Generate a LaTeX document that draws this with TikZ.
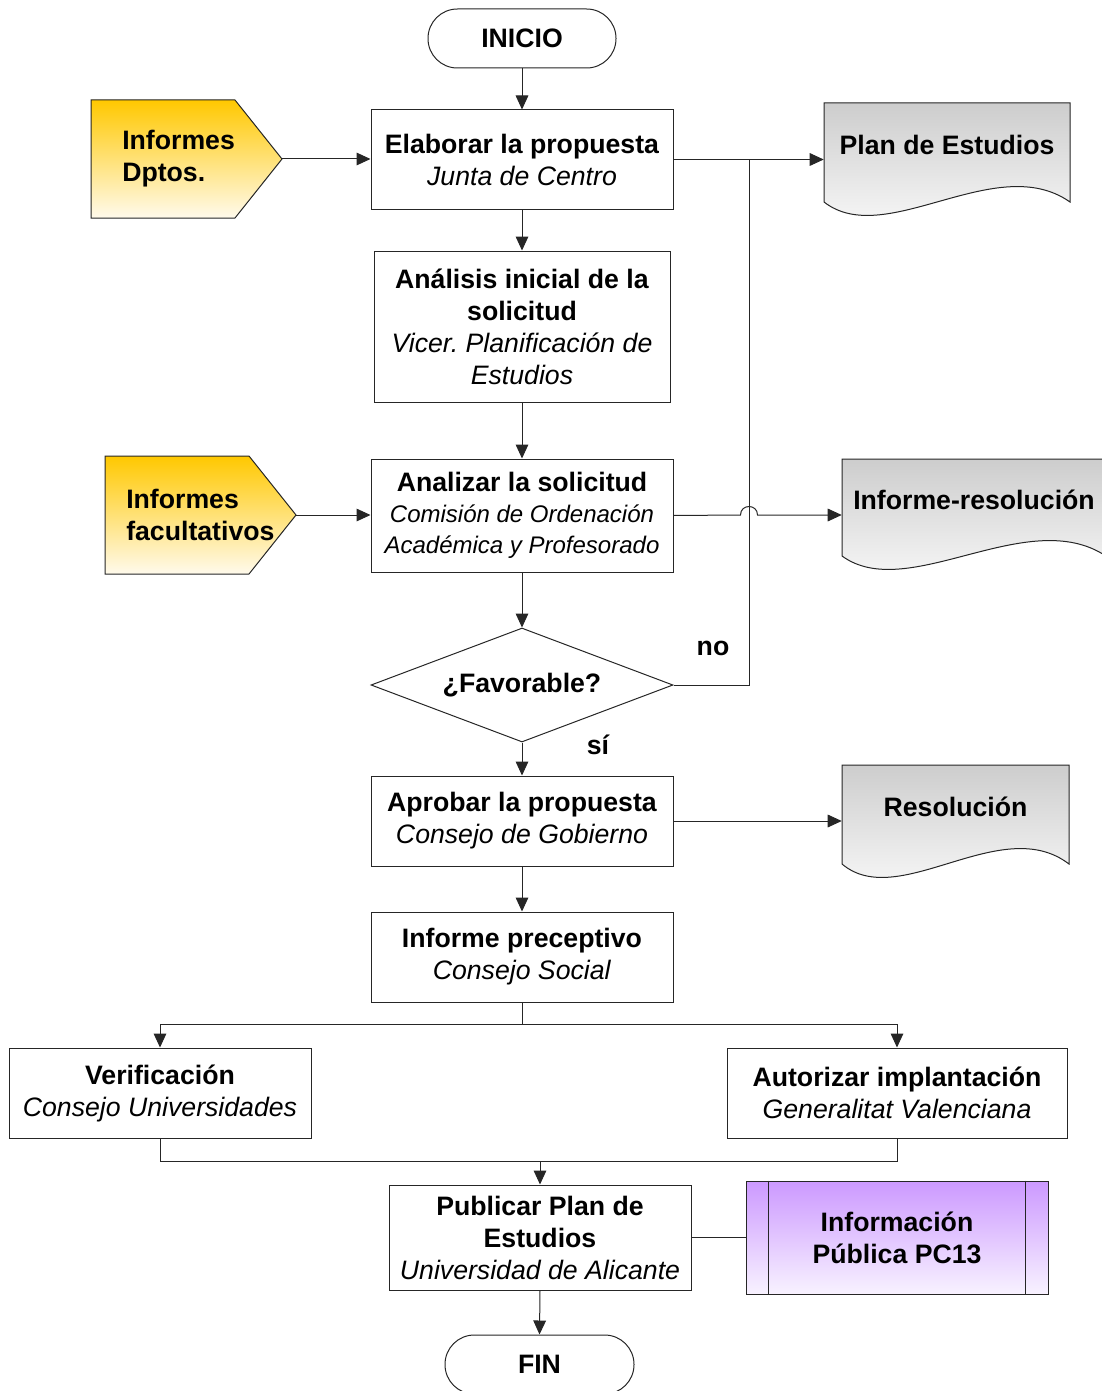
\documentclass[tikz,border=0pt]{standalone}
\usepackage{fontspec}
\setmainfont{Liberation Sans}
\usetikzlibrary{arrows.meta,shapes.geometric,calc}
\definecolor{gold}{RGB}{255,200,0}
\definecolor{cream}{RGB}{255,250,236}
\definecolor{lilac}{RGB}{204,153,255}
\definecolor{lilacw}{RGB}{248,242,255}
\definecolor{docgray}{RGB}{205,205,205}
\frenchspacing
\begin{document}
\begin{tikzpicture}[x=0.75pt,y=-0.75pt,
  txt/.style={font=\fontsize{20}{24}\selectfont},
  box/.style={draw=black!85, line width=0.75pt, fill=white, minimum width=226.5pt,
     align=center, inner sep=0pt, txt},
  term/.style={box, rounded corners=22pt, minimum height=44.25pt, minimum width=141pt},
  conn/.style={line width=0.75pt, draw=black!85},
  arr/.style={conn, -{Triangle[length=10.5pt,width=9.5pt]}},
  docfill/.style={draw=black!85, line width=0.75pt, top color=docgray, bottom color=white},
  inflow/.style={draw=black!85, line width=0.75pt, top color=gold, bottom color=cream},
  docarea/.style={draw=none, inner sep=0pt},
  lbl/.style={txt, font=\fontsize{20}{24}\selectfont\bfseries, inner sep=0pt}
]
\useasboundingbox (0,0) rectangle (1101,1391);

% ---- main column ----
\node[term] (inicio) at (522,38.5) {\textbf{INICIO}};
\node[box, minimum height=74.25pt] (elab) at (522,159.5)
  {\textbf{Elaborar la propuesta}\\\textit{Junta de Centro}};
\node[box, minimum width=222pt, minimum height=113.25pt] (anal1) at (522,326.5)
  {\textbf{Análisis inicial de la}\\\textbf{solicitud}\\\textit{Vicer. Planificación de}\\\textit{Estudios}};
\node[box, minimum height=84.75pt, font=\fontsize{18}{23.25}\selectfont] (anal2) at (522,515.5)
  {{\fontsize{20}{23.25}\selectfont\bfseries Analizar la solicitud}\\\textit{Comisión de Ordenación}\\\textit{Académica y Profesorado}};
\node[draw=black!85, line width=0.75pt, fill=white, diamond, aspect=2.65, minimum width=226.5pt,
      minimum height=85.5pt, inner sep=0pt, txt] (fav) at (522,685) {\textbf{¿Favorable?}};
\node[box, minimum height=67.5pt] (aprob) at (522,821)
  {\textbf{Aprobar la propuesta}\\\textit{Consejo de Gobierno}};
\node[box, minimum height=67.5pt] (infpre) at (522,957)
  {\textbf{Informe preceptivo}\\\textit{Consejo Social}};
\node[box, minimum height=67.5pt] (verif) at (160,1093)
  {\textbf{Verificación}\\\textit{Consejo Universidades}};
\node[box, minimum width=255pt, minimum height=67.5pt] (autor) at (897,1093)
  {\textbf{Autorizar implantación}\\\textit{Generalitat Valenciana}};
\node[box, minimum height=78.75pt] (publ) at (540,1237.5)
  {\textbf{Publicar Plan de}\\\textbf{Estudios}\\\textit{Universidad de Alicante}};
\node[box, minimum height=84.75pt, top color=lilac, bottom color=lilacw] (infpub) at (897,1237.5)
  {\textbf{Información}\\\textbf{Pública PC13}};
\draw[conn] ([xshift=17.25pt]infpub.north west) -- ([xshift=17.25pt]infpub.south west);
\draw[conn] ([xshift=-17.25pt]infpub.north east) -- ([xshift=-17.25pt]infpub.south east);
\node[term, minimum width=141.75pt] (fin) at (539.5,1364.5) {\textbf{FIN}};

% ---- input pentagons ----
\path[inflow] (91,100) -- (235,100) -- (282,159) -- (235,218) -- (91,218) -- cycle;
\coordinate (dptostip) at (282,159);
\node[lbl, anchor=west, align=left] (dptos) at (122,159) {Informes\\Dptos.};
\path[inflow] (105,456) -- (249,456) -- (296,515) -- (249,574) -- (105,574) -- cycle;
\coordinate (factip) at (296,515);
\node[lbl, anchor=west, align=left] (facult) at (126,514.5) {Informes\\facultativos};

% ---- output documents ----
\path[docfill] (824,202) -- (824,103) -- (1070,103) -- (1070,202)
  .. controls (996,150) and (885.5,250) .. (824,202) -- cycle;
\node[docarea, minimum width=184.5pt, minimum height=74.25pt] (plan) at (947,152.5) {};
\node[lbl] (plantxt) at (947,145) {Plan de Estudios};

\path[docfill] (842,556) -- (842,459) -- (1106,459) -- (1106,556)
  .. controls (1027,504) and (908,604) .. (842,556) -- cycle;
\node[docarea, minimum width=198pt, minimum height=72.75pt] (infres) at (974,507.5) {};
\node[lbl] (infrestxt) at (974,500) {Informe-resolución};

\path[docfill] (842,864) -- (842,765) -- (1069,765) -- (1069,864)
  .. controls (1001,812) and (898.75,912) .. (842,864) -- cycle;
\node[docarea, minimum width=170.25pt, minimum height=74.25pt] (resol) at (955.5,814.5) {};
\node[lbl] (resoltxt) at (955.5,807) {Resolución};

% ---- connectors ----
\draw[arr] (inicio.south) -- (elab.north);
\draw[arr] (dptostip) -- (dptostip -| elab.west);
\draw[arr] (elab.east) -- (elab.east -| plan.west);
\draw[arr] (elab.south) -- (anal1.north);
\draw[arr] (anal1.south) -- (anal2.north);
\draw[arr] (factip) -- (factip -| anal2.west);
\coordinate (jumpA) at (740.5,515);
\coordinate (jumpB) at (757.5,515);
\draw[arr] (anal2.east) -- (jumpA) .. controls (740.5,503.7) and (757.5,503.7) .. (jumpB)
  -- (jumpB -| infres.west);
\draw[arr] (anal2.south) -- (fav.north);
\coordinate (nojoin) at (749,159);
\draw[conn] (fav.east) -| (nojoin);
\node[lbl] (nolbl) at (713,648) {no};
\node[lbl] (silbl) at (598,745) {sí};
\draw[arr] (fav.south) -- (aprob.north);
\draw[arr] (aprob.east) -- (aprob.east -| resol.west);
\draw[arr] (aprob.south) -- (infpre.north);
\coordinate (split) at (522,1024);
\draw[conn] (infpre.south) -- (split);
\draw[arr] (split) -| (verif.north);
\draw[arr] (split) -| (autor.north);
\coordinate (merge) at (540,1161);
\draw[conn] (verif.south) |- (merge);
\draw[conn] (autor.south) |- (merge);
\draw[arr] (merge) -- (publ.north);
\draw[conn] (publ.east) -- (infpub.west);
\draw[arr] (publ.south) -- (fin.north);
\end{tikzpicture}
\end{document}
